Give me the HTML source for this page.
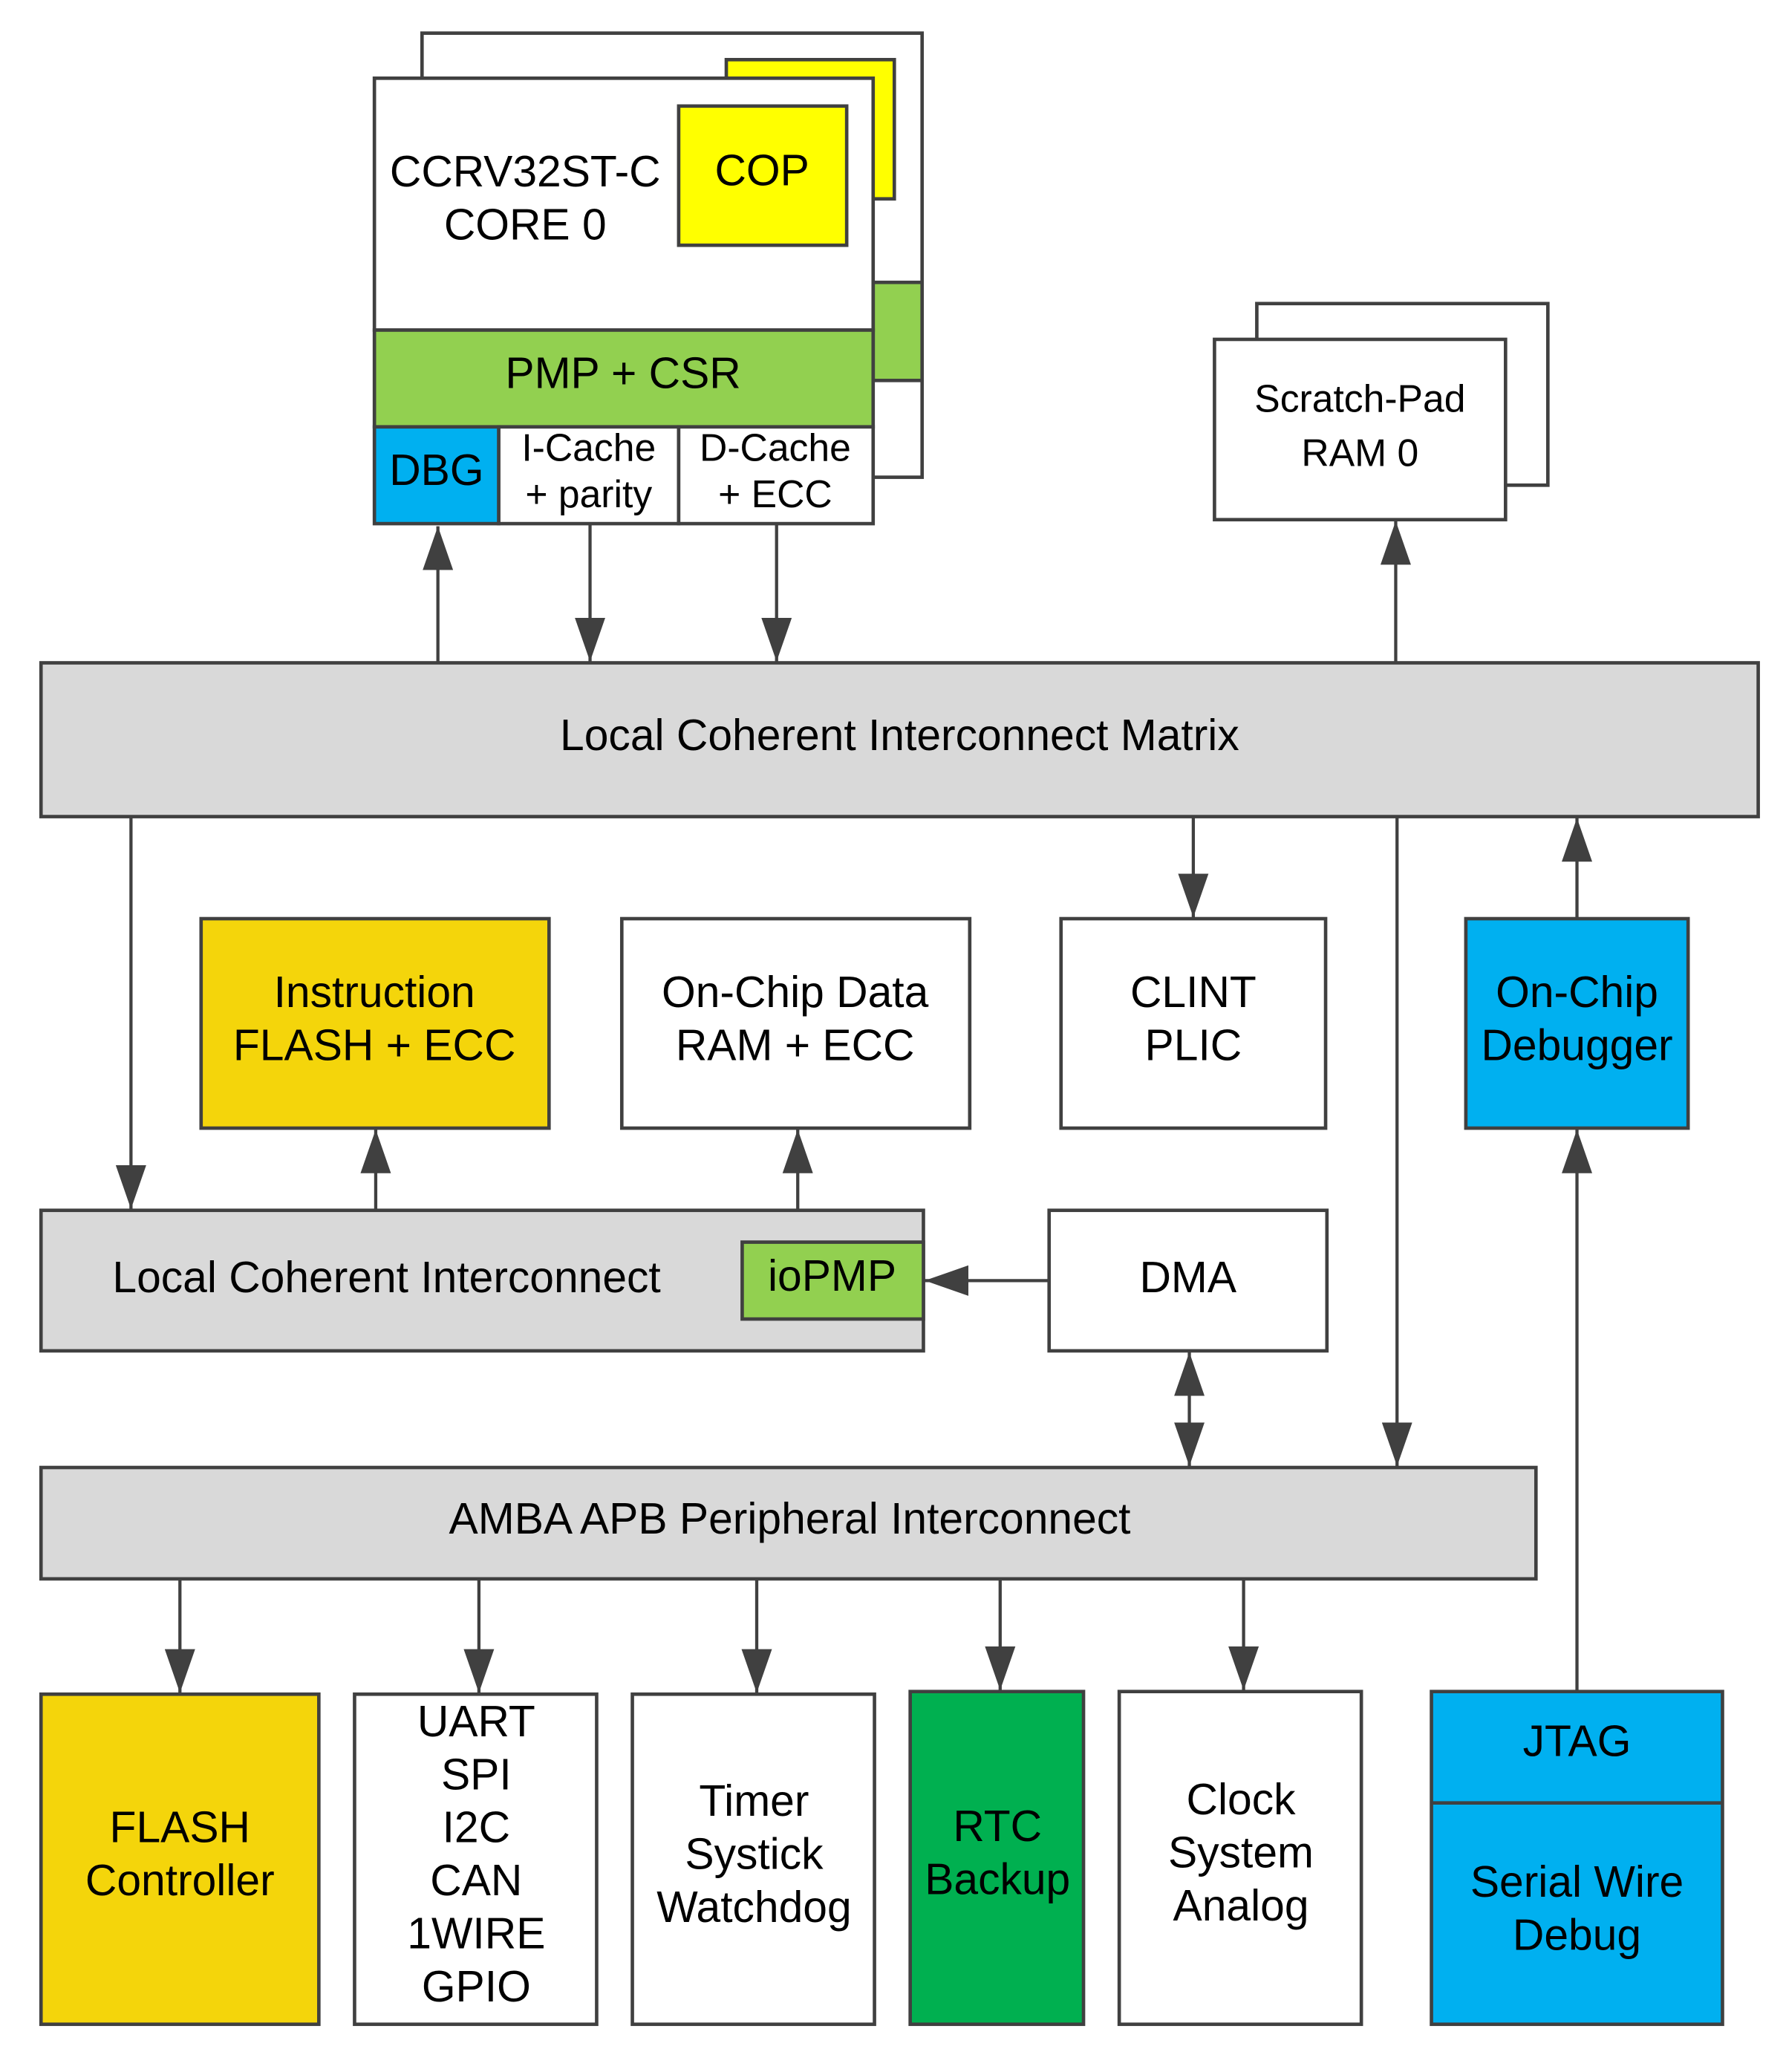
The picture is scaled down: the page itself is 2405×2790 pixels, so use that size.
<!DOCTYPE html>
<html><head><meta charset="utf-8"><style>
html,body{margin:0;padding:0;background:#fff}
svg{display:block}
text{font-family:"Liberation Sans",Arial,sans-serif;fill:#000;text-anchor:middle;dominant-baseline:middle}
.b{stroke:#404040;stroke-width:2.6}
.l{stroke:#404040;stroke-width:2.4;fill:none}
.a{fill:#404040}
</style></head><body>
<svg width="2405" height="2790" viewBox="0 0 1350 1563" preserveAspectRatio="none" xmlns="http://www.w3.org/2000/svg">
<defs>
<marker id="ah" viewBox="0 0 33 23" refX="33" refY="11.5" markerWidth="33" markerHeight="23" markerUnits="userSpaceOnUse" orient="auto">
<path d="M0,0 L33,11.5 L0,23 Z" class="a"/>
</marker>
</defs>
<!-- back core -->
<rect x="319" y="25" width="378" height="335" fill="#fff" class="b"/>
<rect x="549" y="45" width="127" height="105" fill="#ffff00" class="b"/>
<rect x="660" y="213" width="37" height="74" fill="#92d050" class="b"/>
<!-- main core -->
<rect x="283" y="59" width="377" height="190" fill="#fff" class="b"/>
<rect x="283" y="249" width="377" height="73" fill="#92d050" class="b"/>
<rect x="283" y="322" width="94" height="73" fill="#00b0f0" class="b"/>
<rect x="377" y="322" width="136" height="73" fill="#fff" class="b"/>
<rect x="513" y="322" width="147" height="73" fill="#fff" class="b"/>
<rect x="513" y="80" width="127" height="105" fill="#ffff00" class="b"/>
<text x="397" y="132" font-size="33">CCRV32ST-C</text>
<text x="397" y="172" font-size="33">CORE 0</text>
<text x="576" y="131" font-size="33">COP</text>
<text x="471" y="284" font-size="33">PMP + CSR</text>
<text x="330" y="357" font-size="33">DBG</text>
<text x="445" y="340" font-size="29">I-Cache</text>
<text x="445" y="375" font-size="29">+ parity</text>
<text x="586" y="340" font-size="29">D-Cache</text>
<text x="586" y="375" font-size="29">+ ECC</text>
<!-- scratch pad -->
<rect x="950" y="229" width="220" height="137" fill="#fff" class="b"/>
<rect x="918" y="256" width="220" height="136" fill="#fff" class="b"/>
<text x="1028" y="303" font-size="29">Scratch-Pad</text>
<text x="1028" y="344" font-size="29">RAM 0</text>
<!-- matrix -->
<rect x="31" y="500" width="1298" height="116" fill="#d9d9d9" class="b"/>
<text x="680" y="557" font-size="33">Local Coherent Interconnect Matrix</text>
<!-- middle boxes -->
<rect x="152" y="693" width="263" height="158" fill="#f4d50b" class="b"/>
<text x="283" y="751" font-size="33">Instruction</text>
<text x="283" y="791" font-size="33">FLASH + ECC</text>
<rect x="470" y="693" width="263" height="158" fill="#fff" class="b"/>
<text x="601" y="751" font-size="33">On-Chip Data</text>
<text x="601" y="791" font-size="33">RAM + ECC</text>
<rect x="802" y="693" width="200" height="158" fill="#fff" class="b"/>
<text x="902" y="751" font-size="33">CLINT</text>
<text x="902" y="791" font-size="33">PLIC</text>
<rect x="1108" y="693" width="168" height="158" fill="#00b0f0" class="b"/>
<text x="1192" y="751" font-size="33">On-Chip</text>
<text x="1192" y="791" font-size="33">Debugger</text>
<!-- LCI -->
<rect x="31" y="913" width="667" height="106" fill="#d9d9d9" class="b"/>
<text x="85" y="966" font-size="33" style="text-anchor:start">Local Coherent Interconnect</text>
<rect x="561" y="937" width="137" height="58" fill="#92d050" class="b"/>
<text x="629" y="965" font-size="33">ioPMP</text>
<rect x="793" y="913" width="210" height="106" fill="#fff" class="b"/>
<text x="898" y="966" font-size="33">DMA</text>
<!-- APB -->
<rect x="31" y="1107" width="1130" height="84" fill="#d9d9d9" class="b"/>
<text x="597" y="1148" font-size="33">AMBA APB Peripheral Interconnect</text>
<!-- bottom boxes -->
<rect x="31" y="1278" width="210" height="249" fill="#f4d50b" class="b"/>
<text x="136" y="1381" font-size="33">FLASH</text>
<text x="136" y="1421" font-size="33">Controller</text>
<rect x="268" y="1278" width="183" height="249" fill="#fff" class="b"/>
<text x="360" y="1301" font-size="33">UART</text>
<text x="360" y="1341" font-size="33">SPI</text>
<text x="360" y="1381" font-size="33">I2C</text>
<text x="360" y="1421" font-size="33">CAN</text>
<text x="360" y="1461" font-size="33">1WIRE</text>
<text x="360" y="1501" font-size="33">GPIO</text>
<rect x="478" y="1278" width="183" height="249" fill="#fff" class="b"/>
<text x="570" y="1361" font-size="33">Timer</text>
<text x="570" y="1401" font-size="33">Systick</text>
<text x="570" y="1441" font-size="33">Watchdog</text>
<rect x="688" y="1276" width="131" height="251" fill="#00b050" class="b"/>
<text x="754" y="1380" font-size="33">RTC</text>
<text x="754" y="1420" font-size="33">Backup</text>
<rect x="846" y="1276" width="183" height="251" fill="#fff" class="b"/>
<text x="938" y="1360" font-size="33">Clock</text>
<text x="938" y="1400" font-size="33">System</text>
<text x="938" y="1440" font-size="33">Analog</text>
<rect x="1082" y="1276" width="220" height="251" fill="#00b0f0" class="b"/>
<line x1="1082" y1="1360" x2="1302" y2="1360" class="b"/>
<text x="1192" y="1316" font-size="33">JTAG</text>
<text x="1192" y="1422" font-size="33">Serial Wire</text>
<text x="1192" y="1462" font-size="33">Debug</text>
<!-- connectors -->
<line x1="331" y1="500" x2="331" y2="397" class="l" marker-end="url(#ah)"/>
<line x1="446" y1="395" x2="446" y2="499" class="l" marker-end="url(#ah)"/>
<line x1="587" y1="395" x2="587" y2="499" class="l" marker-end="url(#ah)"/>
<line x1="1055" y1="500" x2="1055" y2="393" class="l" marker-end="url(#ah)"/>
<line x1="99" y1="616" x2="99" y2="912" class="l" marker-end="url(#ah)"/>
<line x1="902" y1="616" x2="902" y2="692" class="l" marker-end="url(#ah)"/>
<line x1="1056" y1="616" x2="1056" y2="1106" class="l" marker-end="url(#ah)"/>
<line x1="1192" y1="693" x2="1192" y2="617" class="l" marker-end="url(#ah)"/>
<line x1="284" y1="913" x2="284" y2="852" class="l" marker-end="url(#ah)"/>
<line x1="603" y1="913" x2="603" y2="852" class="l" marker-end="url(#ah)"/>
<line x1="1192" y1="1276" x2="1192" y2="852" class="l" marker-end="url(#ah)"/>
<line x1="793" y1="966" x2="699" y2="966" class="l" marker-end="url(#ah)"/>
<line x1="899" y1="1063" x2="899" y2="1020" class="l" marker-end="url(#ah)"/>
<line x1="899" y1="1063" x2="899" y2="1106" class="l" marker-end="url(#ah)"/>
<line x1="136" y1="1191" x2="136" y2="1277" class="l" marker-end="url(#ah)"/>
<line x1="362" y1="1191" x2="362" y2="1277" class="l" marker-end="url(#ah)"/>
<line x1="572" y1="1191" x2="572" y2="1277" class="l" marker-end="url(#ah)"/>
<line x1="756" y1="1191" x2="756" y2="1275" class="l" marker-end="url(#ah)"/>
<line x1="940" y1="1191" x2="940" y2="1275" class="l" marker-end="url(#ah)"/>
</svg>
</body></html>
